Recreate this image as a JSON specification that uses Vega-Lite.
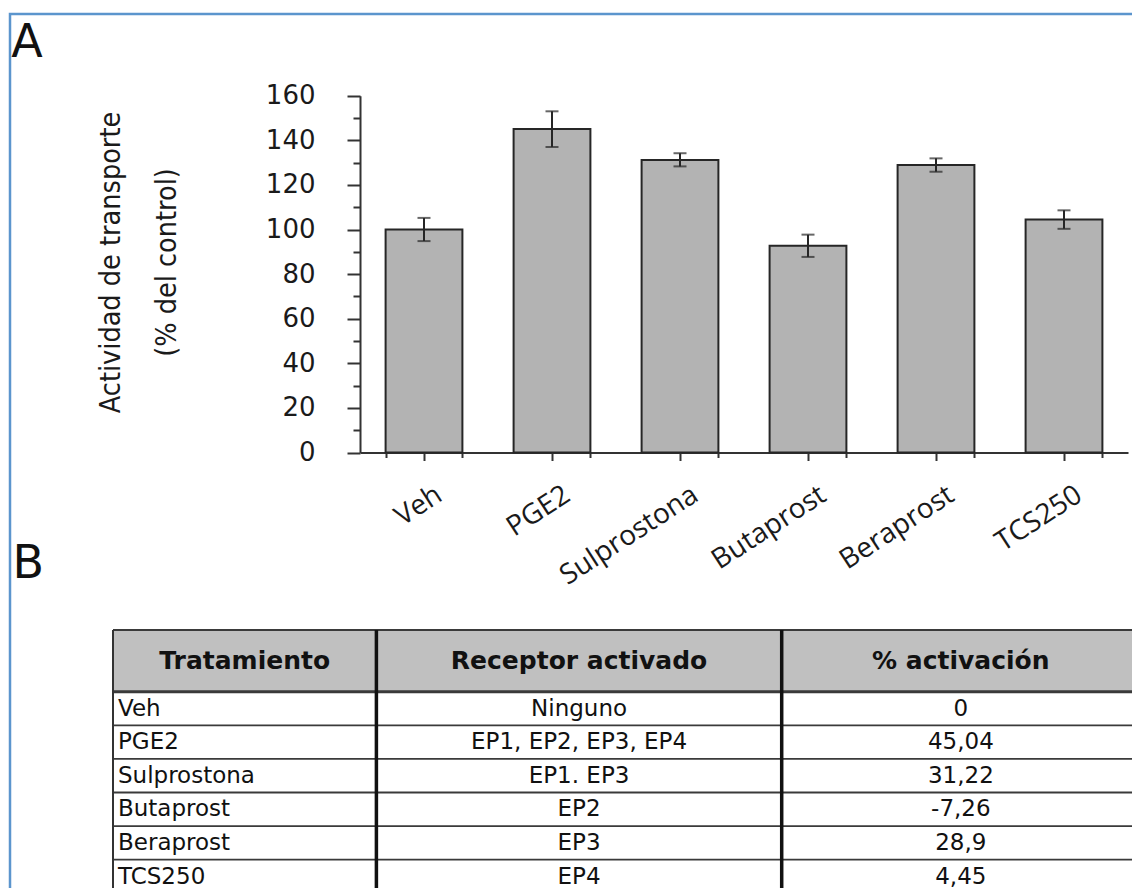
{
  "$schema": "https://vega.github.io/schema/vega-lite/v6.json",
  "width": 1132,
  "height": 888,
  "autosize": {"type": "fit", "contains": "padding"},
  "padding": {"left": 10, "top": 14, "right": -10, "bottom": -10},
  "background": "white",
  "config": {"view": {"stroke": "#5b95cd", "strokeWidth": 2.5}},
  "datasets": {
    "barras": [
      {"Tratamiento": "Veh", "Actividad": 100, "Inferior": 94.8, "Superior": 105.2},
      {"Tratamiento": "PGE2", "Actividad": 145.04, "Inferior": 137, "Superior": 153},
      {"Tratamiento": "Sulprostona", "Actividad": 131.22, "Inferior": 128.3, "Superior": 134.2},
      {"Tratamiento": "Butaprost", "Actividad": 92.74, "Inferior": 87.7, "Superior": 97.7},
      {"Tratamiento": "Beraprost", "Actividad": 128.9, "Inferior": 125.9, "Superior": 131.9},
      {"Tratamiento": "TCS250", "Actividad": 104.45, "Inferior": 100.3, "Superior": 108.6}
    ],
    "tabla": [
      {"Tratamiento": "Veh", "Receptor": "Ninguno", "Activacion": "0", "Fila": 1},
      {"Tratamiento": "PGE2", "Receptor": "EP1, EP2, EP3, EP4", "Activacion": "45,04", "Fila": 2},
      {"Tratamiento": "Sulprostona", "Receptor": "EP1. EP3", "Activacion": "31,22", "Fila": 3},
      {"Tratamiento": "Butaprost", "Receptor": "EP2", "Activacion": "-7,26", "Fila": 4},
      {"Tratamiento": "Beraprost", "Receptor": "EP3", "Activacion": "28,9", "Fila": 5},
      {"Tratamiento": "TCS250", "Receptor": "EP4", "Activacion": "4,45", "Fila": 6}
    ],
    "lineasH": [{"Linea": 0}, {"Linea": 1}, {"Linea": 2}, {"Linea": 3}, {"Linea": 4}, {"Linea": 5}, {"Linea": 6}],
    "lineasV": [{"Columna": 0}, {"Columna": 1}, {"Columna": 2}],
    "encabezado": [{"Seccion": "Encabezado"}],
    "paneles": [{"Panel": "A"}, {"Panel": "B"}]
  },
  "layer": [
    {
      "layer": [
        {
          "data": {"name": "barras"},
          "mark": {"type": "bar", "fill": "#b3b3b3", "stroke": "#262626", "strokeWidth": 2},
          "encoding": {
            "x": {
              "field": "Tratamiento", "type": "nominal", "sort": null,
              "scale": {"type": "band", "range": [350, 1118], "paddingInner": 0.4, "paddingOuter": 0.2},
              "axis": {
                "orient": "bottom", "offset": -445.5, "title": null, "grid": false,
                "labelAngle": -33, "labelFont": "Open Sans", "labelFontSize": 28, "labelColor": "#1a1a1a",
                "labelOffset": 8, "labelPadding": 20, "labelOverlap": false, "labelBound": false,
                "tickSize": 8, "tickWidth": 2, "tickColor": "#333333",
                "domainColor": "#333333", "domainWidth": 2
              }
            },
            "y": {
              "field": "Actividad", "type": "quantitative",
              "scale": {"domain": [0, 160], "range": [438.5, 81.7], "nice": false, "zero": true},
              "axis": {
                "orient": "left", "offset": -350, "grid": false,
                "values": [0, 20, 40, 60, 80, 100, 120, 140, 160],
                "tickSize": 13, "tickWidth": 2, "tickColor": "#333333", "domainColor": "#333333", "domainWidth": 2,
                "labelFont": "DejaVu Sans", "labelFontSize": 26, "labelColor": "#1a1a1a",
                "labelPadding": 32, "labelFlush": false, "labelOverlap": false,
                "title": ["Actividad de transporte", "(% del control)"],
                "titleFont": "DejaVu Sans Condensed, Roboto, sans-serif", "titleFontSize": 28.5, "titleFontWeight": "normal",
                "titleColor": "#1a1a1a", "titleLineHeight": 56, "titlePadding": 84, "titleY": 248
              }
            }
          }
        },
        {
          "data": {"name": "barras"},
          "mark": {"type": "rule", "stroke": "#262626", "strokeWidth": 2},
          "encoding": {
            "x": {
              "field": "Tratamiento", "type": "nominal", "sort": null,
              "axis": {
                "orient": "bottom", "offset": -445.5, "title": null, "grid": false,
                "tickBand": "extent", "labels": false, "domain": false,
                "tickSize": 5, "tickWidth": 2, "tickColor": "#333333"
              }
            },
            "y": {
              "field": "Inferior", "type": "quantitative",
              "axis": {
                "orient": "left", "offset": -350, "grid": false, "title": null,
                "values": [10, 30, 50, 70, 90, 110, 130, 150],
                "labels": false, "domain": false,
                "tickSize": 7, "tickWidth": 2, "tickColor": "#333333"
              }
            },
            "y2": {"field": "Superior"}
          }
        },
        {
          "data": {"name": "barras"},
          "mark": {"type": "tick", "color": "#262626", "thickness": 2, "size": 13, "orient": "horizontal"},
          "encoding": {
            "x": {"field": "Tratamiento", "type": "nominal", "sort": null, "axis": null},
            "y": {"field": "Inferior", "type": "quantitative", "axis": null}
          }
        },
        {
          "data": {"name": "barras"},
          "mark": {"type": "tick", "color": "#262626", "thickness": 2, "size": 13, "orient": "horizontal"},
          "encoding": {
            "x": {"field": "Tratamiento", "type": "nominal", "sort": null, "axis": null},
            "y": {"field": "Superior", "type": "quantitative", "axis": null}
          }
        }
      ],
      "resolve": {"axis": {"x": "independent", "y": "independent"}}
    },
    {
      "layer": [
        {
          "data": {"name": "encabezado"},
          "mark": {"type": "rect", "fill": "#c0c0c0"},
          "encoding": {
            "x": {"datum": 0, "type": "quantitative", "scale": {"domain": [0, 1, 2, 3], "range": [103, 366.4, 771.7, 1130]}, "axis": null},
            "x2": {"datum": 3},
            "y": {"datum": 0, "type": "quantitative", "scale": {"domain": [0, 1, 2, 3, 4, 5, 6, 7], "range": [616, 677.7, 711.3, 744.9, 778.5, 812.1, 845.7, 879.3]}, "axis": null},
            "y2": {"datum": 1}
          }
        },
        {
          "data": {"name": "lineasH"},
          "mark": {"type": "rule", "stroke": "#3a3a3a"},
          "encoding": {
            "x": {"datum": 0, "type": "quantitative", "axis": null},
            "x2": {"datum": 3},
            "y": {"field": "Linea", "type": "quantitative", "axis": null},
            "strokeWidth": {"condition": [{"test": "datum.Linea === 1", "value": 3}, {"test": "datum.Linea === 0", "value": 2}], "value": 1.8}
          }
        },
        {
          "data": {"name": "lineasV"},
          "mark": {"type": "rule"},
          "encoding": {
            "x": {"field": "Columna", "type": "quantitative", "axis": null},
            "y": {"datum": 0, "type": "quantitative", "axis": null},
            "y2": {"datum": 7},
            "strokeWidth": {"condition": {"test": "datum.Columna === 0", "value": 2}, "value": 3.5},
            "stroke": {"condition": {"test": "datum.Columna === 0", "value": "#333333"}, "value": "#111111"}
          }
        },
        {
          "data": {"name": "encabezado"},
          "mark": {"type": "text", "font": "DejaVu Sans", "fontWeight": "bold", "fontSize": 25, "color": "#111111", "align": "center", "baseline": "middle", "dy": 31},
          "encoding": {
            "x": {"datum": 0.5, "type": "quantitative", "axis": null},
            "y": {"datum": 0, "type": "quantitative", "axis": null},
            "text": {"value": "Tratamiento"}
          }
        },
        {
          "data": {"name": "encabezado"},
          "mark": {"type": "text", "font": "DejaVu Sans", "fontWeight": "bold", "fontSize": 25, "color": "#111111", "align": "center", "baseline": "middle", "dy": 31},
          "encoding": {
            "x": {"datum": 1.5, "type": "quantitative", "axis": null},
            "y": {"datum": 0, "type": "quantitative", "axis": null},
            "text": {"value": "Receptor activado"}
          }
        },
        {
          "data": {"name": "encabezado"},
          "mark": {"type": "text", "font": "DejaVu Sans", "fontWeight": "bold", "fontSize": 25, "color": "#111111", "align": "center", "baseline": "middle", "dy": 31},
          "encoding": {
            "x": {"datum": 2.5, "type": "quantitative", "axis": null},
            "y": {"datum": 0, "type": "quantitative", "axis": null},
            "text": {"value": "% activación"}
          }
        },
        {
          "data": {"name": "tabla"},
          "mark": {"type": "text", "font": "DejaVu Sans", "fontSize": 23, "color": "#111111", "align": "left", "baseline": "middle", "dx": 5, "dy": 16.8},
          "encoding": {
            "x": {"datum": 0, "type": "quantitative", "axis": null},
            "y": {"field": "Fila", "type": "quantitative", "axis": null},
            "text": {"field": "Tratamiento"}
          }
        },
        {
          "data": {"name": "tabla"},
          "mark": {"type": "text", "font": "DejaVu Sans", "fontSize": 23, "color": "#111111", "align": "center", "baseline": "middle", "dy": 16.8},
          "encoding": {
            "x": {"datum": 1.5, "type": "quantitative", "axis": null},
            "y": {"field": "Fila", "type": "quantitative", "axis": null},
            "text": {"field": "Receptor"}
          }
        },
        {
          "data": {"name": "tabla"},
          "mark": {"type": "text", "font": "DejaVu Sans", "fontSize": 23, "color": "#111111", "align": "center", "baseline": "middle", "dy": 16.8},
          "encoding": {
            "x": {"datum": 2.5, "type": "quantitative", "axis": null},
            "y": {"field": "Fila", "type": "quantitative", "axis": null},
            "text": {"field": "Activacion"}
          }
        }
      ]
    },
    {
      "data": {"name": "paneles"},
      "mark": {"type": "text", "font": "DejaVu Sans", "fontSize": 46, "color": "#111111", "align": "left", "baseline": "alphabetic"},
      "encoding": {
        "x": {"field": "Panel", "type": "nominal", "scale": {"type": "point", "domain": ["A", "B"], "range": [1.3, 2.6], "padding": 0}, "axis": null},
        "y": {"field": "Panel", "type": "nominal", "scale": {"type": "point", "domain": ["A", "B"], "range": [43, 564], "padding": 0}, "axis": null},
        "text": {"field": "Panel"}
      }
    }
  ],
  "resolve": {"scale": {"x": "independent", "y": "independent"}}
}
